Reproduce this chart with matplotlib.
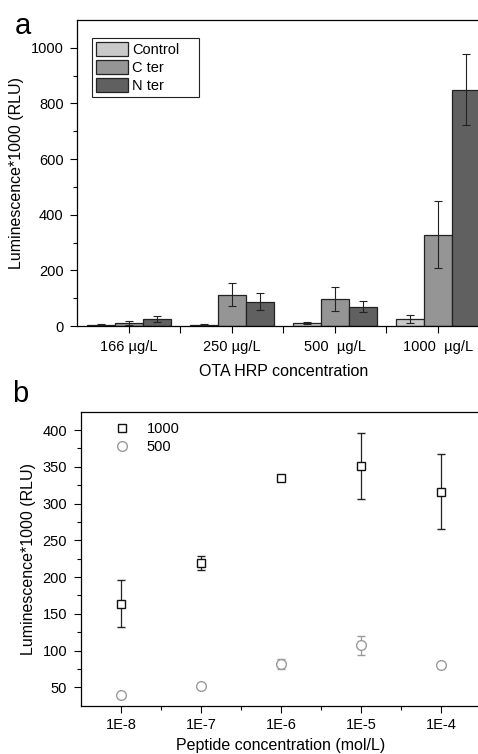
import matplotlib.pyplot as plt
import numpy as np
from matplotlib.ticker import FixedLocator, NullFormatter

plt.rcParams['font.family'] = ['Liberation Sans', 'DejaVu Sans']

# panel a data
conc_labels = ['166 µg/L', '250 µg/L', '500  µg/L', '1000  µg/L']
series_names = ['Control', 'C ter', 'N ter']
control = [5, 5, 12, 25]
control_err = [1, 2, 4, 15]
c_ter = [12, 113, 98, 328]
c_ter_err = [7, 40, 44, 120]
n_ter = [26, 88, 70, 849]
n_ter_err = [11, 30, 19, 127]
bar_colors = ['#c9c9c9', '#959595', '#606060']

# panel b data
peptide_conc = [1e-8, 1e-7, 1e-6, 1e-5, 1e-4]
peptide_labels = ['1E-8', '1E-7', '1E-6', '1E-5', '1E-4']
lum_1000 = [164, 219, 335, 351, 316]
lum_1000_err = [32, 10, 2, 45, 51]
lum_500 = [40, 52, 82, 107, 80]
lum_500_err = [1, 2, 7, 13, 1]

fig = plt.figure(figsize=(4.78, 7.54), dpi=100)

# ---------- panel a ----------
ax1 = fig.add_axes([0.162, 0.5676, 0.862, 0.406])
x = np.arange(1, len(conc_labels) + 1)
w = 0.27
vals = [control, c_ter, n_ter]
errs = [control_err, c_ter_err, n_ter_err]
for i in range(3):
    ax1.bar(x + (i - 1) * w, vals[i], w, color=bar_colors[i], edgecolor='#222222',
            linewidth=0.9, label=series_names[i], zorder=2)
    ax1.errorbar(x + (i - 1) * w, vals[i], yerr=errs[i], fmt='none', ecolor='#222222',
                 elinewidth=0.8, capsize=3, capthick=0.8, zorder=3)

ax1.set_xlim(0.5, 4.5)
ax1.set_ylim(0, 1100)
ax1.set_xticks(x)
ax1.set_xticklabels(conc_labels)
ax1.xaxis.set_minor_locator(FixedLocator([1.5, 2.5, 3.5]))
ax1.set_yticks([0, 200, 400, 600, 800, 1000])
ax1.yaxis.set_minor_locator(FixedLocator([100, 300, 500, 700, 900]))
ax1.tick_params(axis='both', which='major', labelsize=10.5, length=5, width=0.8,
                direction='out', pad=5)
ax1.tick_params(axis='y', which='minor', length=3, width=0.8, direction='out')
ax1.tick_params(axis='x', which='minor', length=5, width=0.8, direction='out')
ax1.set_xlabel('OTA HRP concentration', fontsize=11.5, labelpad=7)
ax1.set_ylabel('Luminescence*1000 (RLU)', fontsize=11.5, labelpad=5)
for s in ax1.spines.values():
    s.set_linewidth(0.9)

leg = ax1.legend(loc='upper left', bbox_to_anchor=(0.035, 0.941, 0.26, 0.0),
                 mode='expand', fontsize=10.5,
                 frameon=True, fancybox=False, edgecolor='#222222', framealpha=1,
                 handlelength=2.2, handleheight=1.1, labelspacing=0.2,
                 handletextpad=0.25, borderpad=0.3, borderaxespad=0)
leg.get_frame().set_linewidth(0.8)

fig.text(0.03, 0.965, 'a', fontsize=21, va='center', ha='left')

# ---------- panel b ----------
ax2 = fig.add_axes([0.1695, 0.064, 0.8368, 0.390])
ax2.set_xscale('log')
ax2.errorbar(peptide_conc, lum_1000, yerr=lum_1000_err, fmt='s', ms=6,
             mfc='white', mec='#111111', mew=1.0, ecolor='#222222',
             elinewidth=0.9, capsize=3, capthick=0.9, label='1000', zorder=3)
ax2.errorbar(peptide_conc, lum_500, yerr=lum_500_err, fmt='o', ms=7,
             mfc='white', mec='#9a9a9a', mew=1.0, ecolor='#9a9a9a',
             elinewidth=0.9, capsize=3, capthick=0.9, label='500', zorder=3)
ax2.set_xlim(10 ** -8.5, 10 ** -3.5)
ax2.set_ylim(25, 425)
ax2.xaxis.set_major_locator(FixedLocator(peptide_conc))
ax2.set_xticklabels(peptide_labels)
ax2.xaxis.set_minor_locator(FixedLocator([10 ** (-8.5 + k) for k in range(1, 5)]))
ax2.xaxis.set_minor_formatter(NullFormatter())
ax2.set_yticks([50, 100, 150, 200, 250, 300, 350, 400])
ax2.yaxis.set_minor_locator(FixedLocator([75, 125, 175, 225, 275, 325, 375]))
ax2.tick_params(axis='x', which='major', labelsize=10.5, length=5, width=0.8,
                direction='out', pad=4)
ax2.tick_params(axis='y', which='major', labelsize=10.5, length=5, width=0.8,
                direction='out', pad=5)
ax2.tick_params(axis='both', which='minor', length=3, width=0.8, direction='out')
ax2.set_xlabel('Peptide concentration (mol/L)', fontsize=11.5, labelpad=4)
ax2.set_ylabel('Luminescence*1000 (RLU)', fontsize=11.5, labelpad=5)
for s in ax2.spines.values():
    s.set_linewidth(0.9)

handles, labels = ax2.get_legend_handles_labels()
handles = [h[0] for h in handles]
ax2.legend(handles, labels, loc='upper left', bbox_to_anchor=(0.07, 0.985), fontsize=10.5,
           frameon=False, handlelength=1.0, handletextpad=1.2, labelspacing=0.3,
           borderaxespad=0)

fig.text(0.025, 0.477, 'b', fontsize=21, va='center', ha='left')

fig.savefig('out.png', dpi=100)
